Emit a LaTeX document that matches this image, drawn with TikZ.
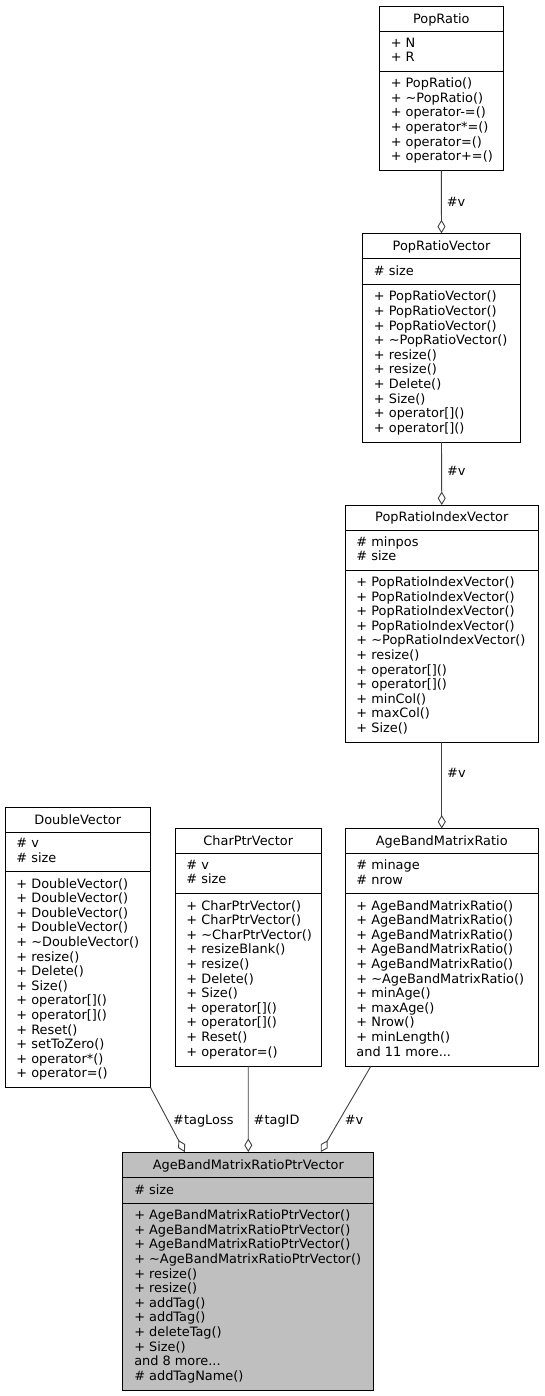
\documentclass[tikz,border=0pt]{standalone}
\usepackage{fontspec}
\setmainfont{DejaVu Sans}
\usepackage{xcolor}
\usepackage{tikz}
\usetikzlibrary{arrows.meta}

\definecolor{edgegray}{HTML}{404040}
\definecolor{mainfill}{HTML}{BFBFBF}
\newcommand{\memstrut}{\rule[-2.96pt]{0pt}{14.6pt}}
\newcommand{\dtor}{\textasciitilde}

\begin{document}
\begin{tikzpicture}[
    x=1pt, y=-1pt,
    line width=0.9pt,
    every node/.style={font=\fontsize{12.9}{14.6}\selectfont},
    classbox/.style={draw=black, fill=white, outer sep=0pt, inner sep=0pt, anchor=north west},
    classname/.style={inner sep=0pt, execute at begin node=\memstrut, execute at end node=\memstrut},
    members/.style={classname, anchor=west, align=left},
    divider/.style={draw=black},
    aggr/.style={draw=edgegray, -{Diamond[open,length=13.5pt,width=8pt]}},
    edgelabel/.style={classname, anchor=west, inner xsep=5pt}
  ]
    \useasboundingbox (0,0) rectangle (544,1396);

    % PopRatio
    \node[classbox, minimum width=124pt, minimum height=164pt] (PR) at (379.3,6.5) {};
    \node[classname] (PRname) at (441.3,19) {PopRatio};
    \draw[divider] (PR.west |- 0,31.5) -- (PR.east |- 0,31.5);
    \draw[divider] (PR.west |- 0,71) -- (PR.east |- 0,71);
    \node[members] (PRattr) at (390.3,51.25) {+ N\\+ R};
    \node[members] (PRops) at (390.3,120.75) {+ PopRatio()\\+ \dtor PopRatio()\\+ operator-=()\\+ operator*=()\\+ operator=()\\+ operator+=()};

    % PopRatioVector
    \node[classbox, minimum width=158pt, minimum height=208.7pt] (PRV) at (362.5,233.3) {};
    \node[classname] (PRVname) at (441.5,245.8) {PopRatioVector};
    \draw[divider] (PRV.west |- 0,258.3) -- (PRV.east |- 0,258.3);
    \draw[divider] (PRV.west |- 0,284.3) -- (PRV.east |- 0,284.3);
    \node[members] (PRVattr) at (373.5,271.3) {\# size};
    \node[members] (PRVops) at (373.5,363.15) {+ PopRatioVector()\\+ PopRatioVector()\\+ PopRatioVector()\\+ \dtor PopRatioVector()\\+ resize()\\+ resize()\\+ Delete()\\+ Size()\\+ operator[]()\\+ operator[]()};

    % PopRatioIndexVector
    \node[classbox, minimum width=193.5pt, minimum height=237.3pt] (PRIV) at (345,505) {};
    \node[classname] (PRIVname) at (441.75,517.5) {PopRatioIndexVector};
    \draw[divider] (PRIV.west |- 0,530) -- (PRIV.east |- 0,530);
    \draw[divider] (PRIV.west |- 0,570) -- (PRIV.east |- 0,570);
    \node[members] (PRIVattr) at (356,550) {\# minpos\\\# size};
    \node[members] (PRIVops) at (356,656.15) {+ PopRatioIndexVector()\\+ PopRatioIndexVector()\\+ PopRatioIndexVector()\\+ PopRatioIndexVector()\\+ \dtor PopRatioIndexVector()\\+ resize()\\+ operator[]()\\+ operator[]()\\+ minCol()\\+ maxCol()\\+ Size()};

    % AgeBandMatrixRatio
    \node[classbox, minimum width=193.5pt, minimum height=237.5pt] (ABMR) at (345,828.5) {};
    \node[classname] (ABMRname) at (441.75,841) {AgeBandMatrixRatio};
    \draw[divider] (ABMR.west |- 0,853.5) -- (ABMR.east |- 0,853.5);
    \draw[divider] (ABMR.west |- 0,893.5) -- (ABMR.east |- 0,893.5);
    \node[members] (ABMRattr) at (356,873.5) {\# minage\\\# nrow};
    \node[members] (ABMRops) at (356,979.75) {+ AgeBandMatrixRatio()\\+ AgeBandMatrixRatio()\\+ AgeBandMatrixRatio()\\+ AgeBandMatrixRatio()\\+ AgeBandMatrixRatio()\\+ \dtor AgeBandMatrixRatio()\\+ minAge()\\+ maxAge()\\+ Nrow()\\+ minLength()\\and 11 more...};

    % CharPtrVector
    \node[classbox, minimum width=146.5pt, minimum height=237.5pt] (CPV) at (175,828.5) {};
    \node[classname] (CPVname) at (248.25,841) {CharPtrVector};
    \draw[divider] (CPV.west |- 0,853.5) -- (CPV.east |- 0,853.5);
    \draw[divider] (CPV.west |- 0,893.5) -- (CPV.east |- 0,893.5);
    \node[members] (CPVattr) at (186,873.5) {\# v\\\# size};
    \node[members] (CPVops) at (186,979.75) {+ CharPtrVector()\\+ CharPtrVector()\\+ \dtor CharPtrVector()\\+ resizeBlank()\\+ resize()\\+ Delete()\\+ Size()\\+ operator[]()\\+ operator[]()\\+ Reset()\\+ operator=()};

    % DoubleVector
    \node[classbox, minimum width=145.5pt, minimum height=280.2pt] (DV) at (5,807.3) {};
    \node[classname] (DVname) at (77.75,819.8) {DoubleVector};
    \draw[divider] (DV.west |- 0,832.3) -- (DV.east |- 0,832.3);
    \draw[divider] (DV.west |- 0,871.7) -- (DV.east |- 0,871.7);
    \node[members] (DVattr) at (16,852) {\# v\\\# size};
    \node[members] (DVops) at (16,979.6) {+ DoubleVector()\\+ DoubleVector()\\+ DoubleVector()\\+ DoubleVector()\\+ \dtor DoubleVector()\\+ resize()\\+ Delete()\\+ Size()\\+ operator[]()\\+ operator[]()\\+ Reset()\\+ setToZero()\\+ operator*()\\+ operator=()};

    % AgeBandMatrixRatioPtrVector
    \node[classbox, fill=mainfill, minimum width=251pt, minimum height=238pt] (ABMRPV) at (122.8,1152) {};
    \node[classname] (ABMRPVname) at (248.3,1164.75) {AgeBandMatrixRatioPtrVector};
    \draw[divider] (ABMRPV.west |- 0,1177.5) -- (ABMRPV.east |- 0,1177.5);
    \draw[divider] (ABMRPV.west |- 0,1203.3) -- (ABMRPV.east |- 0,1203.3);
    \node[members] (ABMRPVattr) at (133.8,1190.4) {\# size};
    \node[members] (ABMRPVops) at (133.8,1296.65) {+ AgeBandMatrixRatioPtrVector()\\+ AgeBandMatrixRatioPtrVector()\\+ AgeBandMatrixRatioPtrVector()\\+ \dtor AgeBandMatrixRatioPtrVector()\\+ resize()\\+ resize()\\+ addTag()\\+ addTag()\\+ deleteTag()\\+ Size()\\and 8 more...\\\# addTagName()};

    % aggregations
    \draw[aggr] (PR.south) -- node[edgelabel, pos=0.497] {\#v} (PRV.north);
    \draw[aggr] (PRV.south) -- node[edgelabel, pos=0.46] {\#v} (PRIV.north);
    \draw[aggr] (PRIV.south) -- node[edgelabel, pos=0.356] {\#v} (ABMR.north);
    \draw[aggr] (DV.south east) -- node[edgelabel, pos=0.504] {\#tagLoss} ([xshift=62pt]ABMRPV.north west);
    \draw[aggr] (CPV.south) -- node[edgelabel, pos=0.628] {\#tagID} (ABMRPV.north);
    \draw[aggr] ([xshift=26pt]ABMR.south west) -- node[edgelabel, pos=0.628] {\#v} ([xshift=-53pt]ABMRPV.north east);
  \end{tikzpicture}
\end{document}
